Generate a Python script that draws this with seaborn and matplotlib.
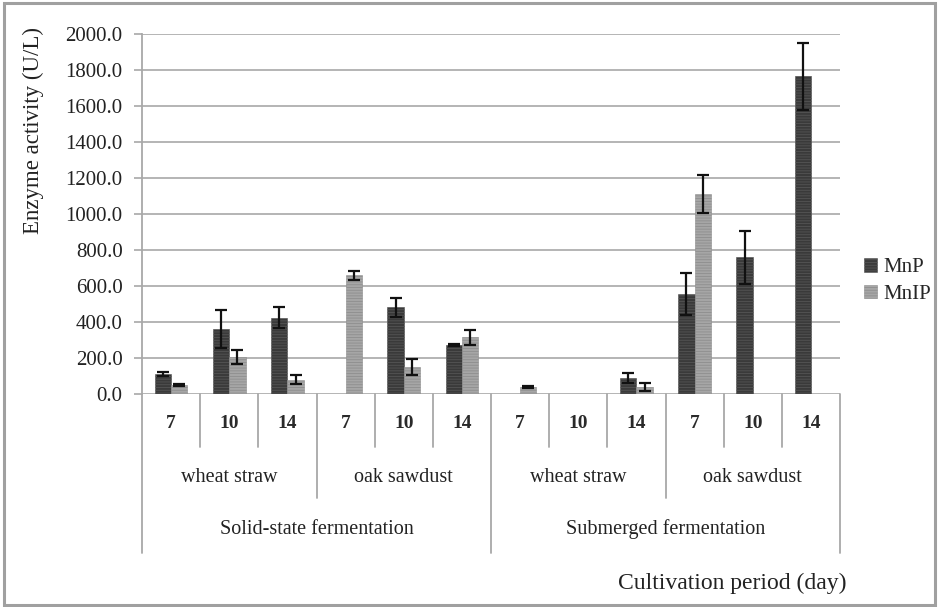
import matplotlib
matplotlib.use("Agg")
import matplotlib.pyplot as plt
import matplotlib.transforms as mtransforms
from matplotlib.patches import Rectangle, Patch
import numpy as np
import pandas as pd
import seaborn as sns

# ---- data ----
fermentations = ["Solid-state fermentation", "Submerged fermentation"]
substrates = ["wheat straw", "oak sawdust"]
days = ["7", "10", "14"]
mnp = [110, 362, 424, 0, 481, 273, 0, 0, 87, 557, 759, 1765]
mnp_err = [12, 105, 60, 0, 55, 5, 0, 0, 28, 118, 147, 185]
mnip = [50, 206, 78, 659, 152, 314, 41, 0, 41, 1112, 0, 0]
mnip_err = [8, 40, 25, 25, 45, 40, 5, 0, 22, 104, 0, 0]
series = ["MnP", "MnIP"]
y_ticks = [0, 200, 400, 600, 800, 1000, 1200, 1400, 1600, 1800, 2000]

# ---- build table ----
cats = []
for f in fermentations:
    for s in substrates:
        for d in days:
            cats.append(f"{f}|{s}|{d}")
rows = []
for i, c in enumerate(cats):
    rows.append({"cat": c, "enzyme": "MnP", "val": mnp[i], "err": mnp_err[i]})
    rows.append({"cat": c, "enzyme": "MnIP", "val": mnip[i], "err": mnip_err[i]})
df = pd.DataFrame(rows)

sns.set_theme(style="white")
plt.rcParams["font.family"] = ["Liberation Serif", "DejaVu Serif"]
plt.rcParams["hatch.linewidth"] = 0.6

W, H = 938, 607
fig = plt.figure(figsize=(W / 100, H / 100), dpi=100)
ax = fig.add_axes([142 / W, 1 - 394 / H, (840 - 142) / W, (394 - 34) / H])

colors = {"MnP": "#3a3a3a", "MnIP": "#a6a6a6"}
edge = {"MnP": "#555555", "MnIP": "#8e8e8e"}
sns.barplot(data=df, x="cat", y="val", hue="enzyme", order=cats, hue_order=series,
            palette=colors, width=0.56, errorbar=None, ax=ax, legend=False,
            zorder=3)

# hatch and edge styling, error bars
n = len(cats)
for k, name in enumerate(series):
    cont = ax.containers[k]
    vals = df[df.enzyme == name].set_index("cat").loc[cats]
    for p, (v, e) in zip(cont.patches, zip(vals["val"], vals["err"])):
        p.set_hatch("------")
        p.set_edgecolor(edge[name])
        p.set_linewidth(0.4)
        if v > 0 and e > 0:
            xc = p.get_x() + p.get_width() / 2
            ax.errorbar(xc, v, yerr=e, fmt="none", ecolor="#111111",
                        elinewidth=1.6, capsize=4.5, capthick=1.6, zorder=5)

ax.set_xlim(-0.5, n - 0.5)
ax.set_ylim(0, 2000)
ax.set_yticks(y_ticks)
ax.set_yticklabels([f"{t:.1f}" for t in y_ticks], fontsize=15, color="#222222")
ax.set_xticks([])
ax.set_xlabel("")
ax.set_ylabel("")
ax.grid(False)
for t in y_ticks:
    ax.axhline(t, color="#b4b4b4", lw=1.4, zorder=1)
for side in ["top", "right", "bottom"]:
    ax.spines[side].set_visible(False)
ax.spines["left"].set_color("#a8a8a8")
ax.spines["left"].set_linewidth(1.3)
ax.tick_params(axis="y", which="major", left=True, length=6, width=1.2,
               color="#a8a8a8", pad=8)

# ---- multi-level category axis ----
tr = mtransforms.blended_transform_factory(ax.transData, fig.transFigure)
def fy(px):
    return 1 - px / H

line_kw = dict(color="#a8a8a8", lw=1.3, transform=tr, clip_on=False)
for b in range(n + 1):
    xb = b - 0.5
    if b % 6 == 0:
        y_end = 553
    elif b % 3 == 0:
        y_end = 498
    else:
        y_end = 447
    ax.plot([xb, xb], [fy(394), fy(y_end)], **line_kw)

for i, c in enumerate(cats):
    ax.text(i, fy(423), c.split("|")[2], ha="center", va="center",
            fontsize=14, fontweight="bold", color="#2a2a2a", transform=tr)
for j in range(4):
    ax.text(3 * j + 1, fy(477), substrates[j % 2], ha="center", va="center",
            fontsize=14.5, color="#222222", transform=tr)
for j in range(2):
    ax.text(6 * j + 2.5, fy(529), fermentations[j], ha="center", va="center",
            fontsize=14.5, color="#222222", transform=tr)

fig.text(732 / W, fy(583), "Cultivation period (day)", ha="center", va="center",
         fontsize=17, color="#222222")
fig.text(33 / W, fy(130), "Enzyme activity (U/L)", ha="center", va="center",
         rotation=90, fontsize=16.5, color="#222222")

# ---- legend ----
handles = [Patch(facecolor=colors[s], edgecolor=edge[s], hatch="------", lw=0.4)
           for s in series]
fig.legend(handles, series, loc="center left",
           bbox_to_anchor=(856 / W, fy(281)), frameon=False, fontsize=15,
           handlelength=0.6, handleheight=0.6, handletextpad=0.3,
           labelspacing=0.35, borderaxespad=0)

# ---- outer frame ----
fig.patches.append(Rectangle((4 / W, 2 / H), 931 / W, 602 / H, fill=False,
                             edgecolor="#a0a0a0", lw=2.2,
                             transform=fig.transFigure))

fig.savefig("out.png", dpi=100)
